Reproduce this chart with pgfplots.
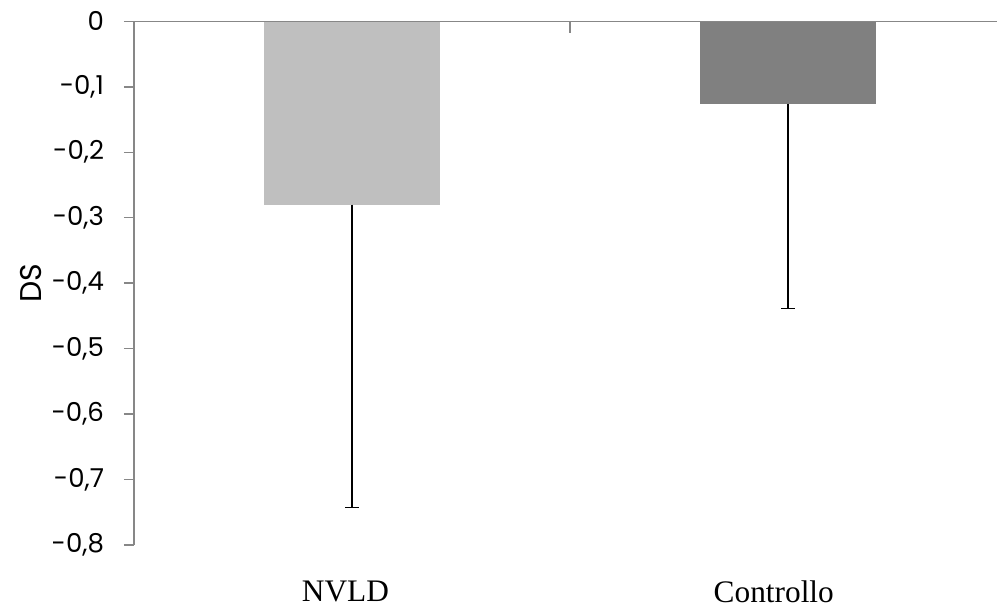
\documentclass[border=0pt]{standalone}
\usepackage{pgfplots}
\pgfplotsset{compat=1.18}
\usepackage{fontspec}
\setmainfont{Poppins}
\newfontfamily\serifcat{Liberation Serif}
\definecolor{barA}{HTML}{BFBFBF}
\definecolor{barB}{HTML}{808080}
\definecolor{axgray}{HTML}{878787}
\begin{document}
\begin{tikzpicture}
\begin{axis}[
  scale only axis,
  width=647.25pt, height=392.7pt,
  xmin=-0.5, xmax=1.48,
  ymin=-0.8, ymax=0,
  axis y line=left, axis x line=bottom,
  axis line style={-, axgray, line width=1.1pt},
  x axis line style={draw=none},
  xtick={0,1},
  xticklabels={{NVLD\hspace*{9.75pt}}, {Controllo\hspace*{21pt}}},
  x tick style={draw=none},
  xticklabel style={font=\serifcat\fontsize{23.5pt}{23.5pt}\selectfont, inner sep=0pt, anchor=north, yshift=-19.5pt},
  ytick={0,-0.1,-0.2,-0.3,-0.4,-0.5,-0.6,-0.7,-0.8},
  yticklabels={0,{-0,1},{-0,2},{-0,3},{-0,4},{-0,5},{-0,6},{-0,7},{-0,8}},
  y tick style={axgray, line width=1.1pt},
  tick align=outside,
  major tick length=7.5pt,
  yticklabel style={font=\fontsize{19.5pt}{19.5pt}\selectfont, black, xshift=-11.5pt},
  ylabel={DS},
  every axis y label/.style={at={(rel axis cs:0,0.5)}, xshift=-77.5pt, rotate=90, anchor=center, font=\fontsize{22.5pt}{22.5pt}\selectfont},
  clip=false,
]
\addplot[ybar, bar shift=0pt, bar width=132pt, fill=barA, draw=none,
  error bars/.cd, y dir=minus, y explicit, error mark=|,
  error bar style={draw=black, line width=1.1pt},
  error mark options={draw=black, line width=1.1pt, mark size=5.1pt}]
  coordinates {(0,-0.28) +- (0,0.463)};
\addplot[ybar, bar shift=0pt, bar width=132pt, fill=barB, draw=none,
  error bars/.cd, y dir=minus, y explicit, error mark=|,
  error bar style={draw=black, line width=1.1pt},
  error mark options={draw=black, line width=1.1pt, mark size=5.1pt}]
  coordinates {(1,-0.126) +- (0,0.313)};
\draw[axgray, line width=1.1pt] (rel axis cs:0,1) -- (rel axis cs:1,1);
\draw[axgray, line width=1.1pt] (axis cs:0.5,0) -- ++(0pt,-8.8pt);
\coordinate (nw) at (rel axis cs:0,1);
\coordinate (se) at (rel axis cs:1,0);
\end{axis}
\pgfresetboundingbox
\path[use as bounding box] ([xshift=-100.5pt,yshift=16.05pt]nw) rectangle ([yshift=-48pt]se);
\end{tikzpicture}
\end{document}
